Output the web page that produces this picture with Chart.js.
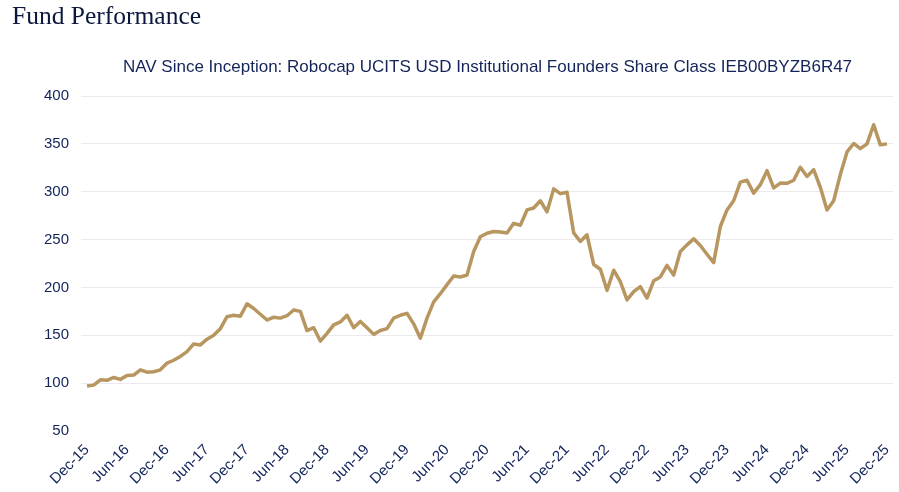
<!DOCTYPE html>
<html lang="en">
<head>
    <meta charset="UTF-8">
    <title>Fund Performance</title>
    <script src="https://cdn.jsdelivr.net/npm/chart.js"></script>
    <style>
        body { margin: 0; background: #fff; }
        #wrap { position: relative; width: 899px; height: 492px; }
        #navChart { position: absolute; left: 0; top: 0; }
        #heading { position: absolute; left: 12px; top: 1px; line-height: 28px; font: 25.5px "Liberation Serif", serif; color: #0b173c; }
        #subtitle { position: absolute; left: 82px; width: 811px; top: 57px; line-height: 22px; text-align: center; font: 17px "Liberation Sans", Arial, sans-serif; color: #14245a; }
    </style>
</head>
<body>
<div id="wrap">
    <canvas id="navChart" width="899" height="492"></canvas>
    <div id="heading">Fund Performance</div>
    <div id="subtitle">NAV Since Inception: Robocap UCITS USD Institutional Founders Share Class IEB00BYZB6R47</div>
</div>

<script>
    // axis labels, one every six months
    const tickLabels = ['Dec-15', 'Jun-16', 'Dec-16', 'Jun-17', 'Dec-17', 'Jun-18', 'Dec-18', 'Jun-19', 'Dec-19', 'Jun-20',
        'Dec-20', 'Jun-21', 'Dec-21', 'Jun-22', 'Dec-22', 'Jun-23', 'Dec-23', 'Jun-24', 'Dec-24', 'Jun-25', 'Dec-25'];

    // month-end NAV, Dec-15 .. Dec-25
    const navValues = [
        97, 98, 103.5, 103, 106, 104, 108, 108.5, 114, 111.5, 112, 114,
        121, 124, 128, 133, 141, 140, 146, 150, 157, 169.5, 171, 170,
        183, 178, 172, 166, 169, 168, 170.5, 176.5, 175, 155, 158, 144,
        152, 161, 164, 171, 158, 164.5, 158, 151, 155, 157, 168, 171,
        173, 162, 147, 168, 185, 193.5, 203, 212, 211, 213, 237.5, 253,
        256.7, 258.5, 258, 257, 267, 265, 281, 283, 290.6, 279, 303, 298,
        299.4, 257, 248, 255, 224, 219, 197, 218, 206, 187, 195.6, 201,
        189, 207, 211, 223, 213, 237.5, 244.5, 250.8, 243.8, 234.7, 226, 263.7,
        281, 290.6, 310, 312, 298.6, 307.4, 322, 304, 309, 308.8, 312, 325.6,
        316, 323, 304.6, 281, 290.6, 318, 341.6, 350.4, 345, 350, 370, 349,
        350
    ];

    const navy = '#14245a';
    const tickFont = { family: '"Liberation Sans", Arial, sans-serif', size: 15 };

    new Chart(document.getElementById('navChart'), {
        type: 'line',
        data: {
            datasets: [{
                label: 'NAV',
                data: navValues.map((v, i) => ({ x: i, y: v })),
                borderColor: '#b8965f',
                borderWidth: 3.5,
                borderJoinStyle: 'round',
                pointRadius: 0,
                tension: 0,
                fill: false
            }]
        },
        options: {
            responsive: false,
            animation: false,
            devicePixelRatio: 1,
            layout: { padding: { left: 32, right: 6, top: 96, bottom: 2 } },
            plugins: {
                legend: { display: false },
                tooltip: { enabled: false }
            },
            scales: {
                x: {
                    type: 'linear',
                    min: -0.9,
                    max: 120.9,
                    afterBuildTicks: axis => {
                        axis.ticks = tickLabels.map((t, k) => ({ value: k * 6 }));
                    },
                    // rotated labels hang to the left, no room needed on the right
                    afterFit: axis => { axis.paddingRight = 0; },
                    ticks: {
                        autoSkip: false,
                        minRotation: 45,
                        maxRotation: 45,
                        padding: 2,
                        color: navy,
                        font: tickFont,
                        callback: v => tickLabels[Math.round(v / 6)]
                    },
                    grid: { display: false },
                    border: { display: false }
                },
                y: {
                    min: 50,
                    max: 400,
                    ticks: { stepSize: 50, padding: 12, color: navy, font: tickFont },
                    grid: {
                        color: c => c.tick.value === 50 ? 'rgba(0,0,0,0)' : '#ebebeb',
                        drawTicks: false
                    },
                    border: { display: false }
                }
            }
        }
    });
</script>
</body>
</html>
